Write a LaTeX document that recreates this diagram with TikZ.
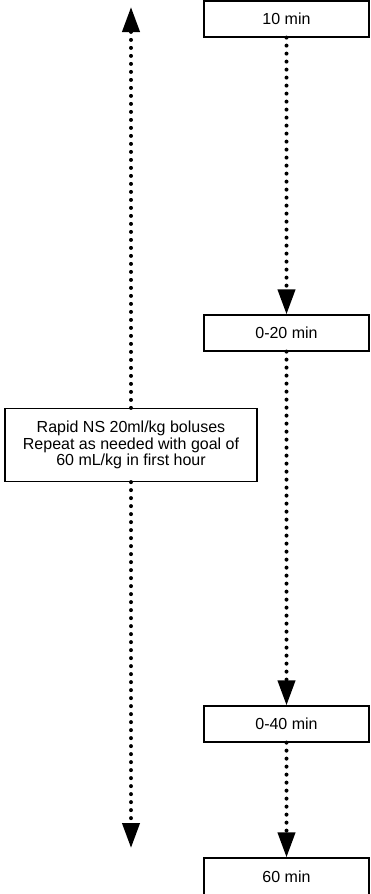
\documentclass[tikz,border=0pt]{standalone}
\usepackage{fontspec}
\setmainfont{Liberation Sans}
\usetikzlibrary{arrows.meta}
\begin{document}
\begin{tikzpicture}[x=1pt,y=-1pt,
  box/.style={draw,line width=1.2pt,minimum height=36pt,inner sep=0pt,font=\fontsize{16}{16.5}\selectfont},
  dotline/.style={line width=4pt,line cap=round,dash pattern=on 0pt off 8pt,
     -{Triangle[width=17pt,length=25pt]}}]
\useasboundingbox (0,0) rectangle (370,894);
\node[box,minimum width=165pt] (b1) at (286.5,19) {10 min};
\node[box,minimum width=165pt] (b2) at (286.5,333) {0-20 min};
\node[box,minimum width=165pt] (b3) at (286.5,724) {0-40 min};
\node[box,minimum width=165pt,minimum height=38pt] (b4) at (286.5,877) {60 min};
\node[box,minimum width=252pt,minimum height=73pt,align=center] (l) at (131,445)
  {Rapid NS 20ml/kg boluses\\Repeat as needed with goal of\\60 mL/kg in first hour};
\coordinate (ltop) at (131,7);
\coordinate (lbot) at (131,848);
\draw[dotline] (b1.south) -- (b2.north);
\draw[dotline] (b2.south) -- (b3.north);
\draw[dotline] (b3.south) -- (b4.north);
\draw[dotline] (l.north) -- (ltop);
\draw[dotline] (l.south) -- (lbot);
\end{tikzpicture}
\end{document}
